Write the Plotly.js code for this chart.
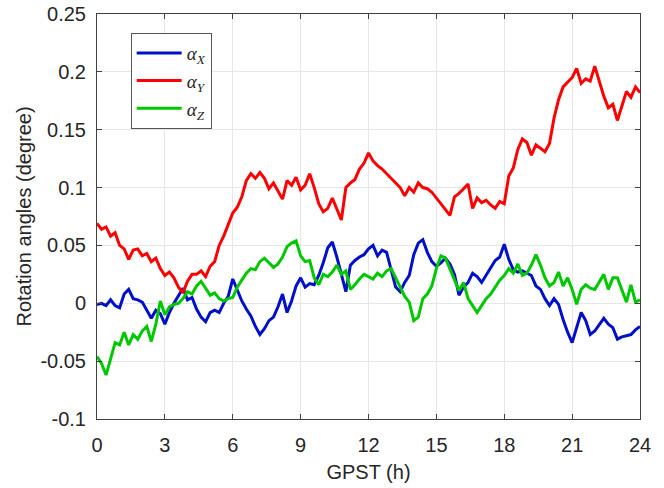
<!DOCTYPE html>
<html>
<head>
<meta charset="utf-8">
<script src="https://cdn.plot.ly/plotly-3.0.1.min.js"></script>
<style>html,body{margin:0;padding:0;background:#fff;}#chart{width:664px;height:488px;}</style>
</head>
<body>
<div id="chart"></div>
<script>
// time grid: start 0 h, step 0.2 h (121 samples per series)
const timeStart = 0;
const timeStep = 0.2;

const alphaX = [
  -0.001,0.000,-0.002,0.003,-0.002,-0.004,0.008,0.012,0.004,0.003,
  0.001,-0.006,-0.013,-0.006,-0.009,-0.018,-0.008,0.000,0.006,0.013,
  0.003,0.005,-0.005,-0.012,-0.016,-0.008,-0.006,-0.008,0.000,0.006,
  0.021,0.012,0.002,-0.005,-0.011,-0.020,-0.027,-0.022,-0.015,-0.012,
  -0.003,0.008,-0.008,0.002,0.015,0.022,0.014,0.017,0.016,0.024,
  0.035,0.048,0.053,0.040,0.026,0.010,0.033,0.037,0.040,0.042,
  0.047,0.050,0.041,0.046,0.044,0.030,0.014,0.010,0.018,0.024,
  0.042,0.052,0.055,0.044,0.036,0.032,0.035,0.039,0.034,0.025,
  0.007,0.014,0.018,0.026,0.023,0.018,0.024,0.030,0.037,0.040,
  0.051,0.038,0.029,0.027,0.028,0.026,0.024,0.015,0.012,0.004,
  -0.002,0.004,-0.001,-0.014,-0.025,-0.034,-0.022,-0.008,-0.015,-0.027,
  -0.024,-0.018,-0.013,-0.018,-0.021,-0.031,-0.029,-0.028,-0.027,-0.023,
  -0.020
];

const alphaY = [
  0.069,0.064,0.066,0.058,0.061,0.050,0.047,0.038,0.046,0.047,
  0.041,0.043,0.036,0.039,0.030,0.024,0.027,0.022,0.014,0.009,
  0.019,0.025,0.025,0.028,0.023,0.032,0.036,0.050,0.058,0.068,
  0.078,0.083,0.092,0.106,0.112,0.108,0.113,0.108,0.099,0.104,
  0.097,0.090,0.106,0.102,0.109,0.098,0.102,0.112,0.100,0.086,
  0.079,0.082,0.091,0.082,0.072,0.100,0.104,0.107,0.116,0.121,
  0.130,0.123,0.119,0.116,0.112,0.108,0.104,0.100,0.093,0.100,
  0.096,0.104,0.100,0.099,0.096,0.091,0.086,0.080,0.076,0.092,
  0.095,0.099,0.103,0.082,0.091,0.087,0.089,0.085,0.082,0.088,
  0.086,0.110,0.117,0.133,0.142,0.139,0.128,0.137,0.134,0.131,
  0.138,0.160,0.176,0.187,0.191,0.195,0.203,0.190,0.194,0.192,
  0.205,0.192,0.179,0.169,0.172,0.158,0.170,0.183,0.178,0.187,
  0.182
];

const alphaZ = [
  -0.046,-0.052,-0.062,-0.048,-0.034,-0.036,-0.025,-0.036,-0.027,-0.031,
  -0.024,-0.020,-0.033,-0.018,0.002,-0.010,-0.003,-0.001,0.000,0.004,
  0.010,0.008,0.015,0.019,0.013,0.007,0.009,0.004,0.002,0.004,
  0.005,0.014,0.020,0.026,0.030,0.029,0.036,0.039,0.035,0.031,
  0.034,0.040,0.049,0.052,0.054,0.041,0.036,0.037,0.022,0.016,
  0.025,0.023,0.027,0.033,0.025,0.028,0.012,0.016,0.021,0.025,
  0.023,0.021,0.026,0.023,0.028,0.030,0.022,0.014,0.006,0.001,
  -0.015,-0.012,0.004,0.008,0.015,0.030,0.041,0.039,0.030,0.020,
  0.011,0.018,0.004,-0.002,-0.008,-0.002,0.004,0.008,0.014,0.020,
  0.024,0.030,0.026,0.034,0.024,0.026,0.033,0.042,0.033,0.022,
  0.015,0.018,0.027,0.015,0.022,0.012,-0.001,0.012,0.016,0.013,
  0.012,0.018,0.025,0.012,0.022,0.022,0.012,0.001,0.016,0.001,
  0.003
];

const seriesNames = ['<i>α</i><sub><i>X</i></sub>', '<i>α</i><sub><i>Y</i></sub>', '<i>α</i><sub><i>Z</i></sub>'];
const seriesColors = ['#0010c8', '#ff0000', '#00c800'];
const xTickVals = [0, 3, 6, 9, 12, 15, 18, 21, 24];
const yTickVals = [-0.1, -0.05, 0, 0.05, 0.1, 0.15, 0.2, 0.25];
const yTickText = ['-0.1', '-0.05', '0', '0.05', '0.1', '0.15', '0.2', '0.25'];

const seriesData = [alphaX, alphaY, alphaZ];
const traces = seriesData.map((vals, i) => ({
  type: 'scatter',
  mode: 'lines',
  x0: timeStart,
  dx: timeStep,
  y: vals,
  name: seriesNames[i],
  line: {color: seriesColors[i], width: 3}
}));

const sansFont = 'Liberation Sans, Arial, sans-serif';
const axisCommon = {
  showline: true,
  linecolor: '#404040',
  linewidth: 1,
  mirror: 'ticks',
  ticks: 'inside',
  ticklen: 5,
  tickcolor: '#404040',
  showgrid: true,
  gridcolor: '#e6e6e6',
  gridwidth: 1,
  zeroline: false,
  tickfont: {family: sansFont, size: 20, color: '#262626'}
};

const layout = {
  width: 664,
  height: 488,
  margin: {l: 97, r: 24, t: 14, b: 69},
  paper_bgcolor: '#ffffff',
  plot_bgcolor: '#ffffff',
  showlegend: true,
  legend: {
    x: 0.062, y: 0.953, xanchor: 'left', yanchor: 'top',
    bgcolor: '#ffffff', bordercolor: '#555555', borderwidth: 1,
    font: {family: 'Liberation Serif, Times New Roman, serif', size: 19, color: '#262626'},
    itemwidth: 45,
    tracegroupgap: 0
  },
  xaxis: Object.assign({}, axisCommon, {
    range: [0, 24],
    tickvals: xTickVals,
    ticklabelstandoff: 8,
    title: {text: 'GPST (h)', font: {family: sansFont, size: 20, color: '#262626'}, standoff: 9}
  }),
  yaxis: Object.assign({}, axisCommon, {
    range: [-0.1, 0.25],
    tickvals: yTickVals,
    ticktext: yTickText,
    ticklabelstandoff: 6,
    title: {text: 'Rotation angles (degree)', font: {family: sansFont, size: 20, color: '#262626'}, standoff: 3}
  })
};

Plotly.newPlot('chart', traces, layout, {displayModeBar: false, staticPlot: true});
</script>
</body>
</html>
